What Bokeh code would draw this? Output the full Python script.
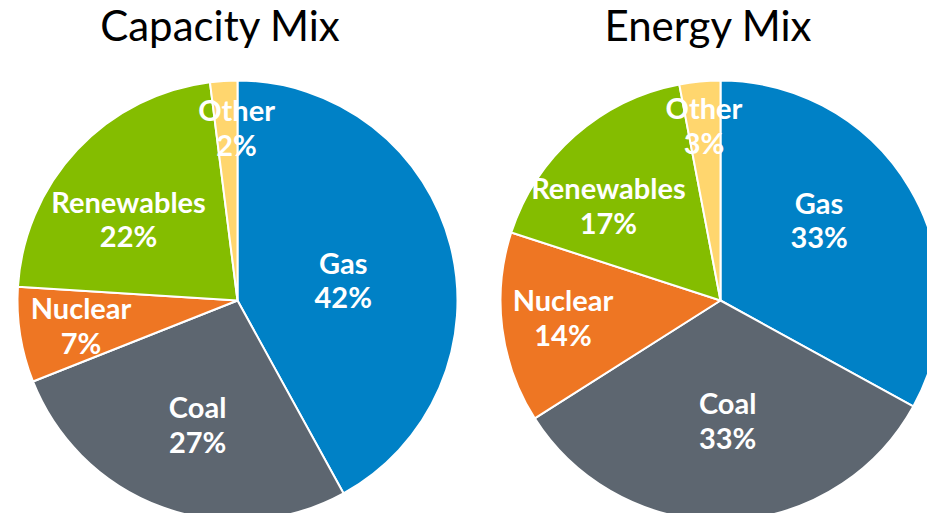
import math
from bokeh.plotting import figure
from bokeh.models import Range1d, ColumnDataSource
from bokeh.core.properties import value
from bokeh.embed import file_html
from bokeh.resources import INLINE

# ---- data ----
categories = ["Gas", "Coal", "Nuclear", "Renewables", "Other"]
capacity_values = [42, 27, 7, 22, 2]
energy_values = [33, 33, 14, 17, 3]
titles = ["Capacity Mix", "Energy Mix"]

# ---- style ----
colors = ["#0081C6", "#5D6670", "#EE7623", "#84BD00", "#FFD66E"]
# label placement tuning: (radius fraction, angle shift in degrees)
capacity_label_layout = [(0.49, -3.2), (0.59, 1.9), (0.72, 0.0), (0.62, 6.2), (0.79, -3.3)]
energy_label_layout = [(0.58, 8.8), (0.545, 1.6), (0.72, -1.2), (0.67, 8.1), (0.80, 0.0)]

W, H = 927, 513
R = 220
pies = [
    (capacity_values, capacity_label_layout, 237, 221, 220),
    (energy_values, energy_label_layout, 720, 221, 708),
]

p = figure(width=W, height=H, output_backend="svg", toolbar_location=None,
           x_range=Range1d(0, W), y_range=Range1d(8, 8 + H),
           min_border=0, outline_line_color=None)
p.axis.visible = False
p.grid.visible = False
p.background_fill_color = "white"

for (vals, layout, cx, cy, tx), title in zip(pies, titles):
    total = float(sum(vals))
    starts, ends, lx, ly, labels = [], [], [], [], []
    cum = 0.0
    for v, (rf, shift), cat in zip(vals, layout, categories):
        a0 = 90 - cum / total * 360
        a1 = 90 - (cum + v) / total * 360
        starts.append(math.radians(a0))
        ends.append(math.radians(a1))
        mid = math.radians((a0 + a1) / 2 + shift)
        lx.append(cx + rf * R * math.cos(mid))
        ly.append(cy + rf * R * math.sin(mid))
        labels.append(f"{cat}\n{round(v / total * 100)}%")
        cum += v
    src = ColumnDataSource(dict(start=starts, end=ends, color=colors,
                                lx=lx, ly=ly, label=labels))
    p.wedge(x=cx, y=cy, radius=R, start_angle="start", end_angle="end",
            direction="clock", fill_color="color", line_color="white",
            line_width=2, source=src)
    p.text(x="lx", y="ly", text="label", source=src, text_color="white",
           text_font=value("Lato"), text_font_style="bold",
           text_font_size="29px", text_align="center", text_baseline="middle",
           text_line_height=0.99)
    p.text(x=[tx], y=[521 - 24], text=[title], text_color="black",
           text_font=value("Lato"), text_font_size="42px",
           text_align="center", text_baseline="alphabetic")

open("out.html", "w").write(file_html(p, INLINE))
